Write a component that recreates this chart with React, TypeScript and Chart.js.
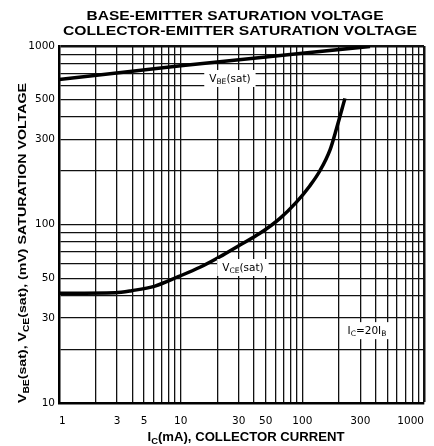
import { useEffect, useRef } from 'react';
import { Chart, registerables } from 'chart.js';

Chart.register(...registerables);

// ---- data ----
const VBE_IC = [1, 10, 100, 360];
const VBE_MV = [650, 775, 912, 995];

const VCE_IC = [1, 2.89, 3.95, 6.15, 9.55, 14.4, 21.0, 30.7, 44.8, 65.5, 89.8, 115.5, 139.5, 168.6, 191, 224];
const VCE_MV = [41.2, 41.5, 42.6, 45.2, 51.0, 57.6, 66.0, 76.8, 89.3, 108.3, 134, 165, 200, 261, 345, 509];

const X_GRID = [1, 2, 3, 4, 5, 6, 7, 8, 9, 10, 20, 30, 40, 50, 60, 70, 80, 90, 100, 200, 300, 400, 500, 600, 700, 800, 900, 1000];
const X_LABELS = [1, 3, 5, 10, 30, 50, 100, 300, 1000];
const Y_GRID = [10, 20, 30, 40, 50, 60, 70, 80, 90, 100, 200, 300, 400, 500, 600, 700, 800, 900, 1000];
const Y_LABELS = [10, 30, 50, 100, 300, 500, 1000];

const TITLE_LINES = ['BASE-EMITTER SATURATION VOLTAGE', 'COLLECTOR-EMITTER SATURATION VOLTAGE'];

type Part = [string, boolean];
const VBE_NOTE: Part[] = [['V', false], ['BE', true], ['(sat)', false]];
const VCE_NOTE: Part[] = [['V', false], ['CE', true], ['(sat)', false]];
const IC_NOTE: Part[] = [['I', false], ['C', true], ['=20I', false], ['B', true]];
const NOTE_POS = [
  { parts: VBE_NOTE, ic: 25.4, mv: 662 },
  { parts: VCE_NOTE, ic: 32.5, mv: 57.8 },
  { parts: IC_NOTE, ic: 340, mv: 25.6 },
];
const Y_TITLE: Part[] = [
  ['V', false], ['BE', true], ['(sat), V', false], ['CE', true], ['(sat), (mV) SATURATION VOLTAGE', false],
];
const X_TITLE: Part[] = [['I', false], ['C', true], ['(mA), COLLECTOR CURRENT', false]];

const FONT = '"Liberation Sans", Arial, Helvetica, sans-serif';
const TICK_FONT = '"DejaVu Sans", Verdana, sans-serif';

function richWidth(ctx: CanvasRenderingContext2D, parts: Part[], size: number, bold: boolean, fam: string) {
  let w = 0;
  for (const [t, sub] of parts) {
    ctx.font = `${bold ? 'bold ' : ''}${sub ? size * 0.72 : size}px ${fam}`;
    w += ctx.measureText(t).width;
  }
  return w;
}

function drawRich(
  ctx: CanvasRenderingContext2D, parts: Part[], cx: number, cy: number,
  size: number, bold: boolean, fam: string, target?: number,
) {
  const total = richWidth(ctx, parts, size, bold, fam);
  const k = target ? target / total : 1;
  ctx.save();
  ctx.translate(cx, cy);
  ctx.scale(k, 1);
  let x = -total / 2;
  const base = size * 0.36;
  ctx.textAlign = 'left';
  ctx.textBaseline = 'alphabetic';
  for (const [t, sub] of parts) {
    ctx.font = `${bold ? 'bold ' : ''}${sub ? size * 0.72 : size}px ${fam}`;
    ctx.fillText(t, x, sub ? base + size * 0.22 : base);
    x += ctx.measureText(t).width;
  }
  ctx.restore();
  return total * k;
}

function fitText(ctx: CanvasRenderingContext2D, text: string, cx: number, cy: number, target: number) {
  const w = ctx.measureText(text).width;
  ctx.save();
  ctx.translate(cx, cy);
  ctx.scale(target / w, 1);
  ctx.textAlign = 'center';
  ctx.textBaseline = 'middle';
  ctx.fillText(text, 0, 0);
  ctx.restore();
}

const overlay = {
  id: 'overlay',
  afterDraw(chart: any) {
    const ctx: CanvasRenderingContext2D = chart.ctx;
    const xs = chart.scales.x;
    const ys = chart.scales.y;
    ctx.save();
    ctx.fillStyle = '#000';
    // title
    ctx.font = `bold 13px ${FONT}`;
    fitText(ctx, TITLE_LINES[0], 235, 16, 297);
    fitText(ctx, TITLE_LINES[1], 240, 31, 354);
    // notes
    for (const n of NOTE_POS) {
      const px = xs.getPixelForValue(n.ic);
      const py = ys.getPixelForValue(n.mv);
      const w = richWidth(ctx, n.parts, 10.5, false, TICK_FONT);
      ctx.fillStyle = '#fff';
      ctx.fillRect(px - w / 2 - 5, py - 8, w + 10, 17);
      ctx.fillStyle = '#000';
      drawRich(ctx, n.parts, px, py, 10.5, false, TICK_FONT);
    }
    // x title
    drawRich(ctx, X_TITLE, 246, 437, 12, true, FONT, 197);
    // y title
    ctx.save();
    ctx.translate(22, 243);
    ctx.rotate(-Math.PI / 2);
    drawRich(ctx, Y_TITLE, 0, 0, 11.5, true, FONT, 320);
    ctx.restore();
    ctx.restore();
  },
};

export default function App() {
  const ref = useRef<HTMLCanvasElement | null>(null);
  useEffect(() => {
    if (!ref.current) return;
    const edge = (max: number) => (c: any) => (c.tick && c.tick.value === max ? 2.5 : 1.3);
    const chart = new Chart(ref.current, {
      type: 'line',
      data: {
        datasets: [
          {
            label: 'VBE(sat)',
            data: VBE_IC.map((x, i) => ({ x, y: VBE_MV[i] })),
            borderColor: '#000',
            borderWidth: 3.5,
            pointRadius: 0,
            tension: 0,
          },
          {
            label: 'VCE(sat)',
            data: VCE_IC.map((x, i) => ({ x, y: VCE_MV[i] })),
            borderColor: '#000',
            borderWidth: 3.5,
            pointRadius: 0,
            cubicInterpolationMode: 'monotone',
          },
        ],
      },
      options: {
        animation: false,
        responsive: false,
        maintainAspectRatio: false,
        layout: { padding: { top: 46, right: 10, left: 0, bottom: 0 } },
        plugins: { legend: { display: false }, tooltip: { enabled: false } },
        scales: {
          x: {
            type: 'logarithmic',
            min: 1,
            max: 1000,
            afterBuildTicks: (s: any) => { s.ticks = X_GRID.map((v) => ({ value: v })); },
            afterFit: (s: any) => { s.height = 43; s.paddingLeft = 0; s.paddingRight = 0; },
            grid: { color: '#111', lineWidth: edge(1000), drawTicks: false },
            border: { display: true, color: '#000', width: 2.5 },
            ticks: {
              autoSkip: false,
              maxRotation: 0,
              align: 'inner',
              padding: 12,
              color: '#000',
              font: { family: TICK_FONT, size: 10.5 },
              callback: (v: any) => (X_LABELS.includes(Number(v)) ? String(v) : ''),
            },
          },
          y: {
            type: 'logarithmic',
            min: 10,
            max: 1000,
            afterBuildTicks: (s: any) => { s.ticks = Y_GRID.map((v) => ({ value: v })); },
            afterFit: (s: any) => { s.width = 59; s.paddingTop = 0; s.paddingBottom = 0; },
            grid: { color: '#111', lineWidth: edge(1000), drawTicks: false },
            border: { display: true, color: '#000', width: 2.5 },
            ticks: {
              autoSkip: false,
              padding: 4,
              color: '#000',
              font: { family: TICK_FONT, size: 10.5 },
              callback: (v: any) => (Y_LABELS.includes(Number(v)) ? String(v) : ''),
            },
          },
        },
      },
      plugins: [overlay],
    } as any);
    return () => chart.destroy();
  }, []);
  return (
    <div style={{ position: 'absolute', left: 0, top: 0, width: 434, height: 446, background: '#fff' }}>
      <canvas ref={ref} width={434} height={446} style={{ width: 434, height: 446 }} />
    </div>
  );
}
